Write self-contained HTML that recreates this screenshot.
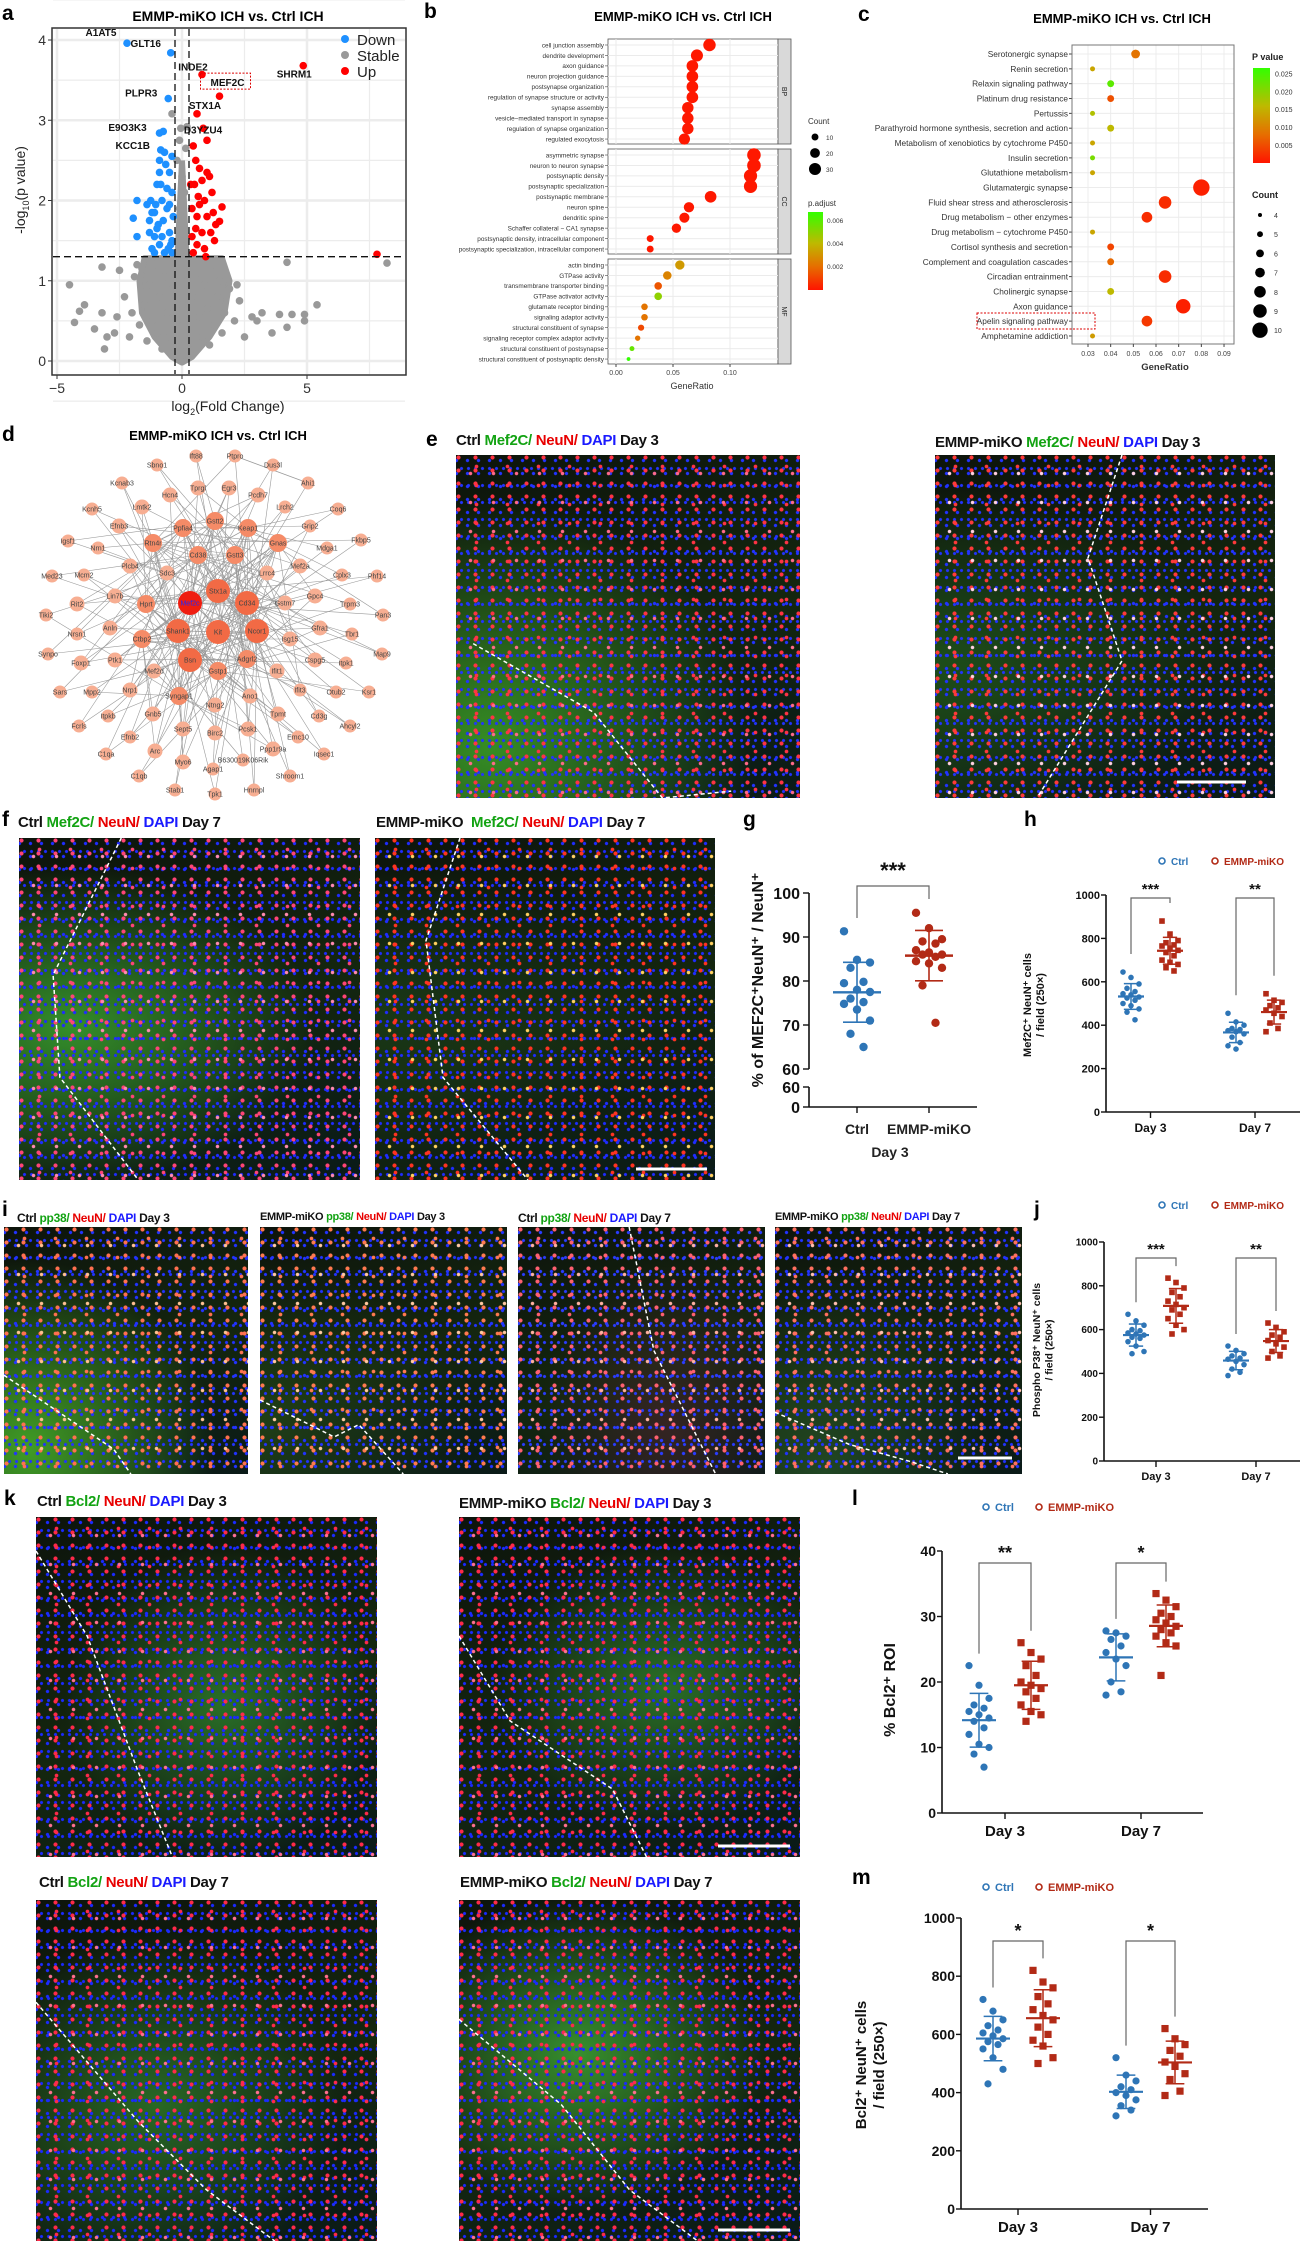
<!DOCTYPE html>
<html><head><meta charset="utf-8">
<style>
html,body{margin:0;padding:0;background:#fff;}
body{width:1309px;height:2244px;position:relative;overflow:hidden;font-family:"Liberation Sans",Arial,sans-serif;}
.micro{position:absolute;overflow:hidden;}
.ttl{position:absolute;font-weight:bold;font-size:15px;white-space:nowrap;color:#111;letter-spacing:-0.3px;}
.ttl.s{font-size:12px;}
.g{color:#13a313}.r{color:#e80000}.b{color:#1a1aff}
.lt{position:absolute;font-weight:bold;font-size:21px;color:#000;}
svg#charts{position:absolute;left:0;top:0;pointer-events:none;}
</style></head>
<body>

<div class="lt" style="left:2px;top:2px">a</div>
<div class="lt" style="left:424px;top:0px">b</div>
<div class="lt" style="left:858px;top:3px">c</div>
<div class="lt" style="left:2px;top:423px">d</div>
<div class="lt" style="left:426px;top:428px">e</div>
<div class="lt" style="left:2px;top:808px">f</div>
<div class="lt" style="left:743px;top:808px">g</div>
<div class="lt" style="left:1024px;top:808px">h</div>
<div class="lt" style="left:2px;top:1198px">i</div>
<div class="lt" style="left:1034px;top:1198px">j</div>
<div class="lt" style="left:4px;top:1487px">k</div>
<div class="lt" style="left:852px;top:1487px">l</div>
<div class="lt" style="left:852px;top:1866px">m</div>

<div class="ttl" style="left:456px;top:432px">Ctrl <span class="g">Mef2C/</span> <span class="r">NeuN/</span> <span class="b">DAPI</span> Day 3</div>
<div class="ttl" style="left:935px;top:434px">EMMP-miKO <span class="g">Mef2C/</span> <span class="r">NeuN/</span> <span class="b">DAPI</span> Day 3</div>
<div class="ttl" style="left:18px;top:814px">Ctrl <span class="g">Mef2C/</span> <span class="r">NeuN/</span> <span class="b">DAPI</span> Day 7</div>
<div class="ttl" style="left:376px;top:814px">EMMP-miKO &nbsp;<span class="g">Mef2C/</span> <span class="r">NeuN/</span> <span class="b">DAPI</span> Day 7</div>
<div class="ttl s" style="left:17px;top:1211px">Ctrl <span class="g">pp38/</span> <span class="r">NeuN/</span> <span class="b">DAPI</span> Day 3</div>
<div class="ttl s" style="left:260px;top:1211px;font-size:11px">EMMP-miKO <span class="g">pp38/</span> <span class="r">NeuN/</span> <span class="b">DAPI</span> Day 3</div>
<div class="ttl s" style="left:518px;top:1211px">Ctrl <span class="g">pp38/</span> <span class="r">NeuN/</span> <span class="b">DAPI</span> Day 7</div>
<div class="ttl s" style="left:775px;top:1211px;font-size:11px">EMMP-miKO <span class="g">pp38/</span> <span class="r">NeuN/</span> <span class="b">DAPI</span> Day 7</div>
<div class="ttl" style="left:37px;top:1493px">Ctrl <span class="g">Bcl2/</span> <span class="r">NeuN/</span> <span class="b">DAPI</span> Day 3</div>
<div class="ttl" style="left:459px;top:1495px">EMMP-miKO <span class="g">Bcl2/</span> <span class="r">NeuN/</span> <span class="b">DAPI</span> Day 3</div>
<div class="ttl" style="left:39px;top:1874px">Ctrl <span class="g">Bcl2/</span> <span class="r">NeuN/</span> <span class="b">DAPI</span> Day 7</div>
<div class="ttl" style="left:460px;top:1874px">EMMP-miKO <span class="g">Bcl2/</span> <span class="r">NeuN/</span> <span class="b">DAPI</span> Day 7</div>

<svg id="charts" width="1309" height="2244" viewBox="0 0 1309 2244" xmlns="http://www.w3.org/2000/svg"></svg>

<script>
// ---------- DATA ----------
const volcDown=[[-2.2,3.96],[-0.45,3.84],[-0.55,3.27],[-0.9,2.84],[-0.75,2.86],[-0.85,2.63],[-0.4,2.55],[-0.9,2.5],[-1.8,2.0],[-1.95,1.78],[-1.8,1.55],[-1.4,1.95],[-1.3,1.75],[-1.1,1.85],[-1.0,2.2],[-0.9,2.35],[-0.7,2.6],[-0.5,2.35],[-1.3,1.6],[-1.1,1.55],[-0.9,1.45],[-0.7,1.35],[-1.2,1.4],[-0.6,1.9],[-0.8,2.0],[-0.4,2.1],[-1.0,1.65],[-0.5,1.6],[-0.35,1.8],[-1.2,1.85],[-0.95,1.7],[-0.6,2.15],[-0.45,1.45],[-0.75,1.75],[-1.05,1.95],[-0.55,1.4],[-0.4,1.5],[-1.25,2.0],[-0.65,2.45],[-0.8,1.55],[-0.5,1.95],[-1.1,1.35],[-0.85,2.2],[-0.4,1.35]];
const volcUp=[[4.85,3.68],[0.8,3.57],[1.5,3.3],[0.6,3.08],[0.85,2.9],[1.0,2.75],[0.45,2.68],[0.55,2.5],[1.0,2.35],[0.9,2.0],[1.5,1.74],[1.35,1.7],[1.6,1.92],[1.2,2.1],[0.7,2.4],[0.5,2.2],[1.0,1.8],[0.8,1.6],[0.6,1.45],[1.3,1.5],[0.4,1.9],[0.65,2.05],[1.1,2.3],[0.45,1.35],[0.7,1.95],[0.9,1.4],[1.25,1.85],[0.35,2.2],[0.55,1.65],[0.8,2.25],[1.15,1.6],[0.4,1.55],[0.95,1.3],[0.6,1.8],[7.8,1.33]];
const volcStable=[[-4.5,0.95],[-4.3,0.48],[-4.1,0.62],[-3.9,0.7],[-3.5,0.4],[-3.2,0.6],[-3.2,1.17],[-3.1,0.15],[-3.0,0.3],[-2.7,0.35],[-2.6,0.55],[-2.5,1.13],[-2.3,0.8],[-2.1,0.3],[-2.0,0.6],[-1.9,1.05],[-1.8,1.2],[-1.7,0.45],[-1.6,1.15],[-1.5,0.7],[-1.4,0.25],[-1.3,0.95],[-1.2,0.5],[-1.1,1.2],[-1.0,0.35],[-0.9,0.8],[-0.8,0.15],[-0.7,1.05],[-0.6,0.6],[-0.5,0.3],[-0.4,0.9],[-0.3,0.1],[-0.2,0.5],[-0.1,0.05],[0,0.7],[0.1,0.2],[0.2,1.0],[0.3,0.4],[0.4,0.8],[0.5,0.15],[0.6,1.1],[0.7,0.55],[0.8,0.3],[0.9,0.95],[1.0,0.65],[1.1,0.2],[1.2,1.2],[1.3,0.45],[1.4,0.8],[1.5,1.0],[1.6,0.35],[1.7,0.6],[1.9,0.9],[2.1,0.5],[2.2,0.95],[2.3,0.75],[2.5,0.3],[2.8,0.55],[3.0,0.5],[3.2,0.6],[3.6,0.35],[3.9,0.58],[4.2,0.42],[4.2,1.23],[4.4,0.58],[4.9,0.5],[4.9,0.58],[5.4,0.7],[8.2,1.22],[-0.05,2.9],[-0.4,3.08],[0.2,2.92],[-0.1,2.75],[0.15,2.65],[-0.2,2.5],[0.0,2.3],[0.1,2.1],[-0.1,1.9],[0.05,1.7],[-0.05,1.5]];
const volcLabels=["A1AT5","GLT16","PLPR3","E9O3K3","","KCC1B"];
const volcUpLabels=["SHRM1","INDE2","MEF2C","STX1A","","D3YZU4"];

const goBP=["cell junction assembly","dendrite development","axon guidance","neuron projection guidance","postsynapse organization","regulation of synapse structure or activity","synapse assembly","vesicle−mediated transport in synapse","regulation of synapse organization","regulated exocytosis"];
const goBPRatio=[0.082,0.071,0.067,0.067,0.067,0.067,0.063,0.063,0.063,0.060];
const goBPCount=[32,30,28,28,28,28,27,27,27,26];
const goBPPadj=[0.0001,0.0001,0.0001,0.0001,0.0001,0.0001,0.0001,0.0001,0.0001,0.0001];
const goCC=["asymmetric synapse","neuron to neuron synapse","postsynaptic density","postsynaptic specialization","postsynaptic membrane","neuron spine","dendritic spine","Schaffer collateral − CA1 synapse","postsynaptic density, intracellular component","postsynaptic specialization, intracellular component"];
const goCCRatio=[0.121,0.121,0.118,0.118,0.083,0.064,0.060,0.053,0.030,0.030];
const goCCCount=[38,38,36,36,28,22,21,18,10,10];
const goCCPadj=[0.0001,0.0001,0.0001,0.0001,0.0001,0.0001,0.0001,0.0001,0.0001,0.0001];
const goMF=["actin binding","GTPase activity","transmembrane transporter binding","GTPase activator activity","glutamate receptor binding","signaling adaptor activity","structural constituent of synapse","signaling receptor complex adaptor activity","structural constituent of postsynapse","structural constituent of postsynaptic density"];
const goMFRatio=[0.056,0.045,0.037,0.037,0.025,0.025,0.022,0.019,0.014,0.011];
const goMFCount=[18,15,12,12,9,9,8,6,5,3];
const goMFPadj=[0.0032,0.0026,0.0015,0.0050,0.0022,0.0022,0.0012,0.0022,0.0058,0.0068];

const keggTerms=["Serotonergic synapse","Renin secretion","Relaxin signaling pathway","Platinum drug resistance","Pertussis","Parathyroid hormone synthesis, secretion and action","Metabolism of xenobiotics by cytochrome P450","Insulin secretion","Glutathione metabolism","Glutamatergic synapse","Fluid shear stress and atherosclerosis","Drug metabolism − other enzymes","Drug metabolism − cytochrome P450","Cortisol synthesis and secretion","Complement and coagulation cascades","Circadian entrainment","Cholinergic synapse","Axon guidance","Apelin signaling pathway","Amphetamine addiction"];
const keggRatio=[0.051,0.032,0.040,0.040,0.032,0.040,0.032,0.032,0.032,0.080,0.064,0.056,0.032,0.040,0.040,0.064,0.040,0.072,0.056,0.032];
const keggCount=[6,4,5,5,4,5,4,4,4,10,8,7,4,5,5,8,5,9,7,4];
const keggP=[0.008,0.013,0.022,0.005,0.016,0.015,0.013,0.020,0.013,0.001,0.002,0.002,0.013,0.004,0.007,0.002,0.015,0.001,0.003,0.012];

const netNames=["Ift88","Ptpro","Sbno1","Dus3l","Ahi1","Kcnab3","Hcn4","Tprgl","Egr3","Pcdh7","Lrch2","Coq6","Kcnh5","Lmtk2","Gstt2","Ppfia4","Keap1","Grip2","Efnb3","Igsf1","Nrn1","Rtn4r","Gnas","Mdga1","Fkbp5","Cd38","Gstt3","Med23","Mcm2","Plcb4","Sdc3","Lrrc4","Mef2a","Cplx3","Phf14","Lin7b","Stx1a","Gpc4","Rit2","Hprt","Mef2c","Cd34","Gstm7","Trpm3","Tiki2","Pan3","Anln","Shank1","Kit","Ncor1","Gfra1","Nrsn1","Ctbp2","Isg15","Tbr1","Synpo","Bsn","Adgrl2","Map9","Foxp1","Ptk1","Cspg5","Itpk1","Mef2d","Gstp1","Ifit1","Sars","Mpp2","Nrp1","Syngap1","Ano1","Ifit3","Otub2","Ksr1","Ntng2","Itpkb","Gnb5","Tpmt","Cd3g","Ahcyl2","Fcrls","Sept5","Pcsk1","Birc2","Efnb2","Emc10","Ppp1r9a","Arc","C1qa","Iqsec1","Myo6","B630019K06Rik","Agap1","Shroom1","C1qb","Stab1","Tpk1","Hnrnpl"];
const netX=[196,235,157,273,308,122,170,198,229,258,285,338,92,142,215,183,248,310,119,68,98,153,278,327,361,198,235,52,84,130,167,267,300,342,377,115,218,315,77,146,190,247,285,350,46,383,110,178,218,257,320,77,142,290,352,48,190,247,382,81,115,315,346,154,218,277,60,92,130,179,250,300,336,369,215,108,153,278,319,350,79,183,248,215,130,298,273,155,106,324,183,243,213,290,139,175,215,254];
const netY=[456,456,465,465,483,483,495,488,488,495,507,509,509,507,521,528,528,526,526,541,548,543,543,548,540,555,555,576,575,566,573,573,566,575,576,596,591,596,604,604,603,603,603,604,615,615,628,631,632,631,628,634,639,639,634,654,660,659,654,663,660,660,663,671,671,671,692,692,690,696,696,690,692,692,705,716,714,714,716,726,726,729,729,733,737,737,749,751,754,754,762,760,769,776,776,790,794,790];
const netDegree=[2,2,2,2,1,2,3,3,3,3,2,2,2,3,6,6,6,2,3,2,2,6,6,2,2,6,6,2,2,3,3,3,3,2,2,3,9,3,3,5,8,9,3,2,2,2,3,10,10,9,3,2,5,3,2,2,10,6,2,3,3,3,2,4,6,3,2,2,4,6,4,2,2,2,4,2,3,3,2,2,2,4,4,4,2,2,3,3,2,2,3,2,2,2,2,2,2,2];

const gCategories=["Ctrl","EMMP-miKO"];
const gCtrl=[91.3,84.8,84.2,83.0,79.8,79.5,78.0,77.5,76.0,75.2,74.8,73.5,71.0,68.0,65.0];
const gEmmp=[95.5,92.0,89.5,89.0,88.5,87.0,86.5,86.0,86.0,85.5,84.5,84.0,83.0,79.0,70.5];
const gTicks=[100,90,80,70,60];

const hGroups=["Day 3","Day 7"];
const hCtrlD3=[645,620,590,570,555,545,540,530,525,515,500,490,475,460,425];
const hEmmpD3=[880,820,790,780,770,765,755,745,735,720,700,690,680,665,650];
const hCtrlD7=[455,415,400,385,380,375,370,360,345,320,305,290];
const hEmmpD7=[545,515,505,490,480,470,455,440,410,385,370];
const hTicks=[0,200,400,600,800,1000];

const jCtrlD3=[670,640,620,600,595,585,580,575,565,560,545,525,500,490];
const jEmmpD3=[835,815,790,770,750,730,715,700,690,670,650,620,600,580];
const jCtrlD7=[525,505,490,480,470,465,455,440,420,405,390];
const jEmmpD7=[630,610,590,575,565,550,535,520,500,480,470];
const jTicks=[0,200,400,600,800,1000];

const lCtrlD3=[22.5,19.5,17.5,16.5,16.0,15.5,15.0,14.5,14.0,13.0,12.0,10.5,10.0,9.0,7.0];
const lEmmpD3=[26.0,24.5,23.5,22.5,21.0,20.0,19.5,19.0,18.5,17.5,16.5,15.5,15.0,14.0];
const lCtrlD7=[27.8,27.5,27.0,26.5,25.5,24.5,23.5,22.5,20.0,18.5,18.0];
const lEmmpD7=[33.5,32.5,31.5,30.5,30.0,29.5,29.0,28.5,28.0,27.5,27.0,26.0,25.5,21.0];
const lTicks=[0,10,20,30,40];

const mCtrlD3=[720,680,650,630,615,605,595,585,575,565,550,520,480,430];
const mEmmpD3=[820,780,760,730,705,685,665,650,625,600,580,560,520,500];
const mCtrlD7=[520,460,440,420,410,400,390,375,355,340,320];
const mEmmpD7=[620,585,565,545,525,505,490,465,445,405,390];
const mTicks=[0,200,400,600,800,1000];

// ---------- HELPERS ----------
const NS='http://www.w3.org/2000/svg';
const svg=document.getElementById('charts');
function E(tag,attrs,nm,parent){
  const e=document.createElementNS(NS,tag);
  for(const k in attrs)e.setAttribute(k,attrs[k]);
  
  
  (parent||svg).appendChild(e);return e;}
function T(x,y,s,attrs,nm,parent){const e=E('text',Object.assign({x:x,y:y},attrs||{}),nm,parent);e.textContent=s;return e;}
function lerpCol(stops,t){t=Math.max(0,Math.min(1,t));for(let i=1;i<stops.length;i++){if(t<=stops[i][0]){const a=stops[i-1],b=stops[i];const u=(t-a[0])/(b[0]-a[0]);const c=[0,1,2].map(k=>Math.round(a[1][k]+(b[1][k]-a[1][k])*u));return 'rgb('+c.join(',')+')';}}return 'rgb('+stops[stops.length-1][1].join(',')+')';}
const rgStops=[[0,[255,20,0]],[0.3,[230,110,0]],[0.6,[190,185,0]],[1,[50,255,0]]];

// ---------- PANEL A: volcano ----------
(function(){
  const vx=v=>182+v*25, vy=v=>361-v*80.25;
  const g=E('g',{},'volcano-plot');
  T(228,21,'EMMP-miKO ICH vs. Ctrl ICH',{'font-size':14,'font-weight':'bold','text-anchor':'middle'},'volcano-title',g);
  E('rect',{x:52,y:28,width:354,height:347,fill:'#fff'},'volcano-background',g);
  for(let v=-0.5;v<=4.5;v+=0.5){E('line',{x1:53,x2:405,y1:vy(v),y2:vy(v),stroke:'#ececec','stroke-width':(v%1===0)?2.5:1.2},'volcano-gridline-y',g);}
  for(let v=-5;v<=8;v+=2.5){E('line',{y1:29,y2:374,x1:vx(v),x2:vx(v),stroke:'#ececec','stroke-width':(v%5===0)?2.5:1.2},'volcano-gridline-x',g);}
  const hull=[[-1.5,1.28],[-1.7,1.0],[-1.6,0.6],[-1.1,0.3],[-0.4,0.05],[0,-0.02],[0.4,0.05],[1.1,0.3],[1.7,0.6],[1.9,1.0],[1.6,1.28]];
  E('path',{d:'M'+hull.map(p=>vx(p[0])+','+vy(p[1])).join('L')+'Z',fill:'#999',stroke:'#999','stroke-width':6,'stroke-linejoin':'round'},'volcano-stable-density',g);
  E('path',{d:'M'+vx(-0.3)+','+vy(1.3)+'L'+vx(-0.12)+','+vy(2.5)+'L'+vx(0.12)+','+vy(2.5)+'L'+vx(0.3)+','+vy(1.3)+'Z',fill:'#999'},'volcano-stable-core',g);
  volcStable.forEach(p=>{E('circle',{cx:vx(p[0]),cy:vy(p[1]),r:3.8,fill:'#999'},'volcano-point-stable',g);});
  volcDown.forEach(p=>{E('circle',{cx:vx(p[0]),cy:vy(p[1]),r:3.8,fill:'#1e90ff'},'volcano-point-down',g);});
  volcUp.forEach(p=>{E('circle',{cx:vx(p[0]),cy:vy(p[1]),r:3.8,fill:'#f00'},'volcano-point-up',g);});
  const dOff=[[-26,-7],[-25,-6],[-27,-2],[-32,-2],null,[-28,-1]];
  volcLabels.forEach((s,i)=>{if(!s)return;const p=volcDown[i];T(vx(p[0])+dOff[i][0],vy(p[1])+dOff[i][1],s,{'font-size':10,'text-anchor':'middle','font-weight':'bold','fill':'#111'},'volcano-gene-label',g);});
  const uOff=[[-9,12],[-9,-4],[8,-10],[8,-5],null,[-4,-7]];
  volcUpLabels.forEach((s,i)=>{if(!s)return;const p=volcUp[i];T(vx(p[0])+uOff[i][0],vy(p[1])+uOff[i][1],s,{'font-size':10,'text-anchor':'middle','font-weight':'bold','fill':'#111'},'volcano-gene-label',g);});
  const mp=volcUp[2];
  E('rect',{x:vx(mp[0])-19,y:vy(mp[1])-23,width:50,height:16,fill:'none',stroke:'#d00','stroke-width':1,'stroke-dasharray':'2,1.5'},'mef2c-highlight-box',g);
  E('line',{x1:53,x2:405,y1:vy(1.3),y2:vy(1.3),stroke:'#111','stroke-width':1.3,'stroke-dasharray':'7,4'},'pvalue-threshold-line',g);
  [-0.28,0.28].forEach(v=>{E('line',{x1:vx(v),x2:vx(v),y1:29,y2:374,stroke:'#111','stroke-width':1.3,'stroke-dasharray':'7,4'},'fold-change-threshold-line',g);});
  E('rect',{x:52,y:28,width:354,height:347,fill:'none',stroke:'#333','stroke-width':1.5},'volcano-frame',g);
  [0,1,2,3,4].forEach(v=>{E('line',{x1:48,x2:52,y1:vy(v),y2:vy(v),stroke:'#333'},'volcano-y-tick',g);T(46,vy(v)+5,String(v),{'font-size':14,'text-anchor':'end','fill':'#333'},'volcano-y-tick-label',g);});
  [-5,0,5].forEach(v=>{E('line',{x1:vx(v),x2:vx(v),y1:375,y2:379,stroke:'#333'},'volcano-x-tick',g);T(vx(v),393,v<0?'−5':String(v),{'font-size':14,'text-anchor':'middle','fill':'#333'},'volcano-x-tick-label',g);});
  const xl=T(228,411,'log',{'font-size':14,'text-anchor':'middle','fill':'#222'},'volcano-x-axis-title',g);
  xl.innerHTML='log<tspan font-size="9" dy="4">2</tspan><tspan dy="-4">(Fold Change)</tspan>';
  const yl=T(0,0,'',{'font-size':14,'text-anchor':'middle','fill':'#222',transform:'translate(25,190) rotate(-90)'},'volcano-y-axis-title',g);
  yl.innerHTML='-log<tspan font-size="9" dy="4">10</tspan><tspan dy="-4">(p value)</tspan>';
  const lg=[['Down','#1e90ff'],['Stable','#999'],['Up','#f00']];
  lg.forEach((l,i)=>{E('circle',{cx:345,cy:39+i*16,r:4,fill:l[1]},'volcano-legend-marker',g);T(357,45+i*16,l[0],{'font-size':15,'fill':'#222'},'volcano-legend-label',g);});
})();

// ---------- PANEL B: GO dot plot ----------
(function(){
  const g=E('g',{},'go-enrichment-plot');
  const bx=v=>616+v*1140;
  const cmax=0.0068;
  T(683,21,'EMMP-miKO ICH vs. Ctrl ICH',{'font-size':13,'font-weight':'bold','text-anchor':'middle'},'go-title',g);
  const facets=[['BP',39,goBP,goBPRatio,goBPCount,goBPPadj],['CC',149,goCC,goCCRatio,goCCCount,goCCPadj],['MF',259,goMF,goMFRatio,goMFCount,goMFPadj]];
  facets.forEach(f=>{
    const top=f[1],h=105;
    E('rect',{x:608,y:top,width:170,height:h,fill:'#fff',stroke:'#555','stroke-width':0.8},'go-facet-panel',g);
    [0,0.05,0.1].forEach(v=>{E('line',{x1:bx(v),x2:bx(v),y1:top,y2:top+h,stroke:'#ebebeb','stroke-width':1},'go-gridline-x',g);});
    E('rect',{x:778,y:top,width:13,height:h,fill:'#d9d9d9',stroke:'#555','stroke-width':0.8},'go-facet-strip',g);
    T(0,0,f[0],{'font-size':7,'text-anchor':'middle',transform:'translate(782,'+(top+h/2)+') rotate(90)','fill':'#222'},'go-facet-label',g);
    f[2].forEach((s,i)=>{const y=top+6+i*10.45;
      E('line',{x1:608,x2:778,y1:y,y2:y,stroke:'#ebebeb','stroke-width':1},'go-gridline-y',g);
      E('line',{x1:605,x2:608,y1:y,y2:y,stroke:'#444','stroke-width':0.6},'go-y-tick',g);
      T(604,y+2.3,s,{'font-size':6.4,'text-anchor':'end','fill':'#333'},'go-term-label',g);
      E('circle',{cx:bx(f[3][i]),cy:y,r:Math.sqrt(f[4][i])*1.1,fill:lerpCol(rgStops,f[5][i]/cmax)},'go-term-dot',g);});
  });
  [[0,'0.00'],[0.05,'0.05'],[0.1,'0.10']].forEach(t=>{E('line',{x1:bx(t[0]),x2:bx(t[0]),y1:364,y2:367,stroke:'#444'},'go-x-tick',g);T(bx(t[0]),375,t[1],{'font-size':7,'text-anchor':'middle','fill':'#444'},'go-x-tick-label',g);});
  T(692,389,'GeneRatio',{'font-size':9,'text-anchor':'middle','fill':'#333'},'go-x-axis-title',g);
  T(808,124,'Count',{'font-size':8,'fill':'#333'},'go-count-legend-title',g);
  [10,20,30].forEach((c,i)=>{E('circle',{cx:815,cy:137+i*16,r:Math.sqrt(c)*1.1,fill:'#000'},'go-count-legend-dot',g);T(826,140+i*16,String(c),{'font-size':6.5,'fill':'#333'},'go-count-legend-label',g);});
  T(808,206,'p.adjust',{'font-size':8,'fill':'#333'},'go-padj-legend-title',g);
  const df=E('defs',{},'go-defs',g);
  const lgd=E('linearGradient',{id:'gPadj',x1:0,y1:0,x2:0,y2:1},'padj-gradient',df);
  [[0,'rgb(50,255,0)'],[0.4,'rgb(190,185,0)'],[0.7,'rgb(230,110,0)'],[1,'rgb(255,20,0)']].forEach(s=>{E('stop',{offset:s[0],'stop-color':s[1]},'gradient-stop',lgd);});
  E('rect',{x:808,y:212,width:15,height:78,fill:'url(#gPadj)'},'go-padj-colorbar',g);
  [[0.006,'0.006'],[0.004,'0.004'],[0.002,'0.002']].forEach(t=>{const y=290-t[0]/0.0068*78;T(827,y+2,t[1],{'font-size':6.5,'fill':'#333'},'go-padj-legend-label',g);});
})();

// ---------- PANEL C: KEGG ----------
(function(){
  const g=E('g',{},'kegg-enrichment-plot');
  const kx=v=>1088+(v-0.03)*2267;
  T(1122,23,'EMMP-miKO ICH vs. Ctrl ICH',{'font-size':13,'font-weight':'bold','text-anchor':'middle'},'kegg-title',g);
  E('rect',{x:1072,y:45,width:162,height:299,fill:'#fff'},'kegg-background',g);
  for(let v=0.03;v<=0.0901;v+=0.01){E('line',{x1:kx(v),x2:kx(v),y1:45,y2:344,stroke:'#ececec'},'kegg-gridline-x',g);}
  keggTerms.forEach((s,i)=>{const y=54+i*14.84;
    E('line',{x1:1072,x2:1234,y1:y,y2:y,stroke:'#ececec'},'kegg-gridline-y',g);
    E('line',{x1:1069,x2:1072,y1:y,y2:y,stroke:'#444'},'kegg-y-tick',g);
    T(1068,y+3,s,{'font-size':8.3,'text-anchor':'end','fill':'#333'},'kegg-term-label',g);
    E('circle',{cx:kx(keggRatio[i]),cy:y,r:2.5+(keggCount[i]-4)*0.95,fill:lerpCol(rgStops,keggP[i]/0.025)},'kegg-term-dot',g);});
  E('rect',{x:977,y:313,width:118,height:16,fill:'none',stroke:'#d00','stroke-width':1,'stroke-dasharray':'2,1.5'},'apelin-highlight-box',g);
  E('rect',{x:1072,y:45,width:162,height:299,fill:'none',stroke:'#777','stroke-width':1},'kegg-frame',g);
  ['0.03','0.04','0.05','0.06','0.07','0.08','0.09'].forEach(t=>{const x=kx(+t);E('line',{x1:x,x2:x,y1:344,y2:347,stroke:'#444'},'kegg-x-tick',g);T(x,356,t,{'font-size':7,'text-anchor':'middle','fill':'#444'},'kegg-x-tick-label',g);});
  T(1165,370,'GeneRatio',{'font-size':9.5,'text-anchor':'middle','fill':'#333','font-weight':'bold'},'kegg-x-axis-title',g);
  T(1252,60,'P value',{'font-size':9,'fill':'#222','font-weight':'bold'},'kegg-pvalue-legend-title',g);
  const df=E('defs',{},'kegg-defs',g);
  const lgd=E('linearGradient',{id:'gP',x1:0,y1:0,x2:0,y2:1},'pvalue-gradient',df);
  [[0,'rgb(50,255,0)'],[0.4,'rgb(190,185,0)'],[0.7,'rgb(230,110,0)'],[1,'rgb(255,20,0)']].forEach(s=>{E('stop',{offset:s[0],'stop-color':s[1]},'gradient-stop',lgd);});
  E('rect',{x:1253,y:68,width:17,height:95,fill:'url(#gP)'},'kegg-pvalue-colorbar',g);
  [0.025,0.020,0.015,0.010,0.005].forEach(v=>{const y=163-v/0.0265*95;T(1275,y+3,v.toFixed(3),{'font-size':7,'fill':'#333'},'kegg-pvalue-legend-label',g);});
  T(1252,198,'Count',{'font-size':9,'fill':'#222','font-weight':'bold'},'kegg-count-legend-title',g);
  [4,5,6,7,8,9,10].forEach((c,i)=>{const y=215+i*19.2;E('circle',{cx:1260,cy:y,r:2+(c-4)*0.95,fill:'#000'},'kegg-count-legend-dot',g);T(1274,y+3,String(c),{'font-size':7,'fill':'#333'},'kegg-count-legend-label',g);});
})();

// ---------- PANEL D: network ----------
(function(){
  const g=E('g',{},'ppi-network');
  T(218,440,'EMMP-miKO ICH vs. Ctrl ICH',{'font-size':13,'font-weight':'bold','text-anchor':'middle'},'network-title',g);
  const hubs=[];netDegree.forEach((d,i)=>{if(d>=5)hubs.push(i);});
  netNames.forEach((n,i)=>{for(let k=0;k<Math.min(netDegree[i],3);k++){const h=hubs[(i*3+k*7)%hubs.length];if(h===i)continue;
    E('line',{x1:netX[i],y1:netY[i],x2:netX[h],y2:netY[h],stroke:'#9a9a9a','stroke-width':0.6},'network-edge',g);}});
  E('line',{x1:netX[1],y1:netY[1],x2:netX[4],y2:netY[4],stroke:'#9a9a9a','stroke-width':0.8},'network-edge',g);
  netNames.forEach((n,i)=>{const d=netDegree[i];const r=d>=8?12:(d>=5?9:(d>=3?7.5:6.5));
    const col=n==='Mef2c'?'#ef1d10':(d>=8?'#f26a45':(d>=5?'#f58b67':'#f7ae92'));
    E('circle',{cx:netX[i],cy:netY[i],r:r,fill:col},'network-node',g);
    T(netX[i],netY[i]+2.5,n,{'font-size':7,'text-anchor':'middle','fill':n==='Mef2c'?'#1a2bff':'#444'},'network-node-label',g);});
})();

// ---------- SCATTER PANELS ----------
function scatterPanel(o){
  const g=E('g',{},o.name);
  const ys=v=>o.y0-(v/o.vmax)*(o.y0-o.yTop);
  E('line',{x1:o.ax,x2:o.ax,y1:o.yTop,y2:o.y0,stroke:'#111','stroke-width':1.6},o.name+'-y-axis',g);
  E('line',{x1:o.ax,x2:o.axEnd,y1:o.y0,y2:o.y0,stroke:'#111','stroke-width':1.6},o.name+'-x-axis',g);
  o.ticks.forEach(t=>{E('line',{x1:o.ax-5,x2:o.ax,y1:ys(t),y2:ys(t),stroke:'#111','stroke-width':1.4},o.name+'-y-tick',g);
    T(o.ax-6,ys(t)+o.fs*0.36,String(t),{'font-size':o.fs,'font-weight':'bold','text-anchor':'end','fill':'#111'},o.name+'-y-tick-label',g);});
  o.days.forEach((d,i)=>{const cx=(o.series[i*2].x+o.series[i*2+1].x)/2;
    E('line',{x1:cx,x2:cx,y1:o.y0,y2:o.y0+6,stroke:'#111','stroke-width':1.4},o.name+'-x-tick',g);
    T(cx,o.y0+o.lfs+8,d,{'font-size':o.lfs,'font-weight':'bold','text-anchor':'middle','fill':'#111'},o.name+'-x-tick-label',g);});
  o.series.forEach((s,si)=>{
    const n=s.vals.length,mean=s.vals.reduce((a,b)=>a+b,0)/n;
    const sd=Math.sqrt(s.vals.reduce((a,b)=>a+(b-mean)*(b-mean),0)/(n-1));
    s.vals.forEach((v,i)=>{const dx=((i*7)%5-2)*o.jit;
      if(s.sq){E('rect',{x:s.x+dx-o.pr,y:ys(v)-o.pr,width:o.pr*2,height:o.pr*2,fill:s.col},o.name+'-point-emmp',g);}
      else{E('circle',{cx:s.x+dx,cy:ys(v),r:o.pr,fill:s.col},o.name+'-point-ctrl',g);}});
    E('line',{x1:s.x-o.mw,x2:s.x+o.mw,y1:ys(mean),y2:ys(mean),stroke:s.col,'stroke-width':2.2},o.name+'-mean-line',g);
    E('line',{x1:s.x,x2:s.x,y1:ys(mean+sd),y2:ys(mean-sd),stroke:s.col,'stroke-width':1.5},o.name+'-sd-bar',g);
    [mean+sd,mean-sd].forEach(v=>{E('line',{x1:s.x-o.mw*0.55,x2:s.x+o.mw*0.55,y1:ys(v),y2:ys(v),stroke:s.col,'stroke-width':1.5},o.name+'-sd-cap',g);});
  });
  o.stars.forEach((st,i)=>{const a=o.series[i*2],b=o.series[i*2+1];
    const ya=ys(Math.max(...a.vals))-o.gap,yb=ys(Math.max(...b.vals))-o.gap;
    E('path',{d:'M'+a.x+','+ya+'V'+o.by+'H'+b.x+'V'+yb,fill:'none',stroke:'#666','stroke-width':1.2},o.name+'-significance-bracket',g);
    T((a.x+b.x)/2,o.by-4,st,{'font-size':o.sfs,'font-weight':'bold','text-anchor':'middle','fill':'#111'},o.name+'-significance-stars',g);});
  if(o.legY){
    E('circle',{cx:o.legX,cy:o.legY-3,r:3,fill:'none',stroke:'#2e75b6','stroke-width':1.6},o.name+'-legend-ctrl-marker',g);
    T(o.legX+9,o.legY+1,'Ctrl',{'font-size':o.legfs,'font-weight':'bold','fill':'#2e75b6'},o.name+'-legend-ctrl-label',g);
    E('circle',{cx:o.legX2,cy:o.legY-3,r:3,fill:'none',stroke:'#b22a16','stroke-width':1.6},o.name+'-legend-emmp-marker',g);
    T(o.legX2+9,o.legY+1,'EMMP-miKO',{'font-size':o.legfs,'font-weight':'bold','fill':'#b22a16'},o.name+'-legend-emmp-label',g);}
  const yl=E('text',{'font-size':o.yfs,'font-weight':'bold','text-anchor':'middle','fill':'#111',transform:'translate('+o.ylx+','+o.yly+') rotate(-90)'},o.name+'-y-axis-title',g);
  o.ylab.forEach((l,i)=>{const t=E('tspan',{x:0,dy:i===0?0:o.yfs*1.2},o.name+'-y-axis-title-line',yl);t.textContent=l;});
  return g;
}
const BLUE='#2e75b6',RED='#b22a16';

// g panel (broken axis, custom)
(function(){
  const g=E('g',{},'mef2c-percent-plot');
  const ys=v=>893+(100-v)*4.4;
  E('line',{x1:809,x2:809,y1:893,y2:1069,stroke:'#111','stroke-width':1.6},'g-y-axis-upper',g);
  E('line',{x1:809,x2:809,y1:1087,y2:1107,stroke:'#111','stroke-width':1.6},'g-y-axis-lower',g);
  E('line',{x1:809,x2:977,y1:1107,y2:1107,stroke:'#111','stroke-width':1.6},'g-x-axis',g);
  gTicks.forEach(t=>{E('line',{x1:803,x2:809,y1:ys(t),y2:ys(t),stroke:'#111','stroke-width':1.4},'g-y-tick',g);T(800,ys(t)+6,String(t),{'font-size':16,'font-weight':'bold','text-anchor':'end','fill':'#111'},'g-y-tick-label',g);});
  [[60,1087],[0,1107]].forEach(t=>{E('line',{x1:803,x2:809,y1:t[1],y2:t[1],stroke:'#111','stroke-width':1.4},'g-y-tick',g);T(800,t[1]+6,String(t[0]),{'font-size':16,'font-weight':'bold','text-anchor':'end','fill':'#111'},'g-y-tick-label',g);});
  const xs=[857,929];
  gCategories.forEach((c,i)=>{E('line',{x1:xs[i],x2:xs[i],y1:1107,y2:1113,stroke:'#111','stroke-width':1.4},'g-x-tick',g);T(xs[i],1134,c,{'font-size':14,'font-weight':'bold','text-anchor':'middle','fill':'#222'},'g-x-tick-label',g);});
  T(890,1157,'Day 3',{'font-size':14,'font-weight':'bold','text-anchor':'middle','fill':'#222'},'g-x-axis-title',g);
  [[gCtrl,BLUE,false],[gEmmp,RED,true]].forEach((s,si)=>{const x=xs[si];const vals=s[0];
    const n=vals.length,mean=vals.reduce((a,b)=>a+b,0)/n,sd=Math.sqrt(vals.reduce((a,b)=>a+(b-mean)**2,0)/(n-1));
    vals.forEach((v,i)=>{const dx=((i*7)%5-2)*6.5;E('circle',{cx:x+dx,cy:ys(v),r:4.2,fill:s[1]},si?'g-point-emmp':'g-point-ctrl',g);});
    E('line',{x1:x-24,x2:x+24,y1:ys(mean),y2:ys(mean),stroke:s[1],'stroke-width':2.4},'g-mean-line',g);
    E('line',{x1:x,x2:x,y1:ys(mean+sd),y2:ys(mean-sd),stroke:s[1],'stroke-width':1.6},'g-sd-bar',g);
    [mean+sd,mean-sd].forEach(v=>{E('line',{x1:x-14,x2:x+14,y1:ys(v),y2:ys(v),stroke:s[1],'stroke-width':1.6},'g-sd-cap',g);});});
  E('path',{d:'M857,918V886H929V899',fill:'none',stroke:'#666','stroke-width':1.2},'g-significance-bracket',g);
  T(893,878,'***',{'font-size':22,'font-weight':'bold','text-anchor':'middle','fill':'#111'},'g-significance-stars',g);
  const yl=T(0,0,'% of MEF2C⁺NeuN⁺ / NeuN⁺',{'font-size':16,'font-weight':'bold','text-anchor':'middle','fill':'#111',transform:'translate(763,980) rotate(-90)'},'g-y-axis-title',g);
})();

scatterPanel({name:'h-mef2c-count',ax:1106,axEnd:1300,yTop:895,y0:1112,vmax:1000,ticks:hTicks,fs:11,lfs:12,days:hGroups,
  series:[{vals:hCtrlD3,x:1131,col:BLUE},{vals:hEmmpD3,x:1170,col:RED,sq:true},{vals:hCtrlD7,x:1236,col:BLUE},{vals:hEmmpD7,x:1274,col:RED,sq:true}],
  pr:2.8,jit:4,mw:13,stars:['***','**'],by:898,gap:18,sfs:15,legX:1162,legX2:1215,legY:864,legfs:10,yfs:11,ylx:1031,yly:1005,ylab:['Mef2C⁺ NeuN⁺ cells','/ field (250×)']});
scatterPanel({name:'j-pp38-count',ax:1104,axEnd:1300,yTop:1242,y0:1461,vmax:1000,ticks:jTicks,fs:10,lfs:11,days:hGroups,
  series:[{vals:jCtrlD3,x:1136,col:BLUE},{vals:jEmmpD3,x:1176,col:RED,sq:true},{vals:jCtrlD7,x:1236,col:BLUE},{vals:jEmmpD7,x:1276,col:RED,sq:true}],
  pr:2.8,jit:4,mw:13,stars:['***','**'],by:1258,gap:12,sfs:15,legX:1162,legX2:1215,legY:1208,legfs:10,yfs:10.5,ylx:1040,yly:1350,ylab:['Phospho P38⁺ NeuN⁺ cells','/ field (250×)']});
scatterPanel({name:'l-bcl2-roi',ax:942,axEnd:1203,yTop:1551,y0:1813,vmax:40,ticks:lTicks,fs:14,lfs:15,days:hGroups,
  series:[{vals:lCtrlD3,x:979,col:BLUE},{vals:lEmmpD3,x:1031,col:RED,sq:true},{vals:lCtrlD7,x:1116,col:BLUE},{vals:lEmmpD7,x:1166,col:RED,sq:true}],
  pr:3.6,jit:5,mw:17,stars:['**','*'],by:1563,gap:12,sfs:18,legX:986,legX2:1039,legY:1510,legfs:11,yfs:16,ylx:895,yly:1690,ylab:['% Bcl2⁺ ROI']});
scatterPanel({name:'m-bcl2-count',ax:961,axEnd:1208,yTop:1918,y0:2209,vmax:1000,ticks:mTicks,fs:14,lfs:15,days:hGroups,
  series:[{vals:mCtrlD3,x:993,col:BLUE},{vals:mEmmpD3,x:1043,col:RED,sq:true},{vals:mCtrlD7,x:1126,col:BLUE},{vals:mEmmpD7,x:1175,col:RED,sq:true}],
  pr:3.6,jit:5,mw:17,stars:['*','*'],by:1941,gap:12,sfs:18,legX:986,legX2:1039,legY:1890,legfs:11,yfs:15,ylx:866,yly:2065,ylab:['Bcl2⁺ NeuN⁺ cells','/ field (250×)']});

// ---------- MICROSCOPY IMAGES ----------
const micros=[
 ['micro-e-ctrl-d3',456,455,344,343,'rgba(60,160,40,.85)','10% 85%','#ff6a8a','#ff3344','#2233ff',[[5,55],[40,75],[60,100],[80,98]],null],
 ['micro-e-emmp-d3',935,455,340,343,'rgba(40,120,40,.5)','0% 60%','#ffd0e0','#ff3a3a','#2233ff',[[55,0],[45,30],[55,60],[30,100]],[1177,1246,782]],
 ['micro-f-ctrl-d7',19,838,341,342,'rgba(60,170,50,.8)','15% 55%','#ff8ab0','#ff4477','#1f2cff',[[30,0],[10,40],[12,70],[35,100]],null],
 ['micro-f-emmp-d7',375,838,340,342,'rgba(40,100,40,.35)','0% 50%','#ffd060','#ff3322','#1f2cff',[[25,0],[15,30],[20,70],[45,100]],[636,707,1169]],
 ['micro-i-1',4,1227,244,247,'rgba(70,170,40,.9)','10% 90%','#ffc090','#ff7050','#2233ff',[[0,60],[30,80],[45,90],[52,100]],null],
 ['micro-i-2',260,1227,247,247,'rgba(60,120,40,.3)','0% 80%','#ffc8a0','#ff7a50','#2233ff',[[0,70],[30,85],[40,80],[58,100]],null],
 ['micro-i-3',518,1227,247,247,'rgba(90,40,50,.5)','60% 80%','#ffb0a0','#ff6070','#2a3cff',[[45,0],[55,50],[70,80],[80,100]],null],
 ['micro-i-4',775,1227,247,247,'rgba(60,130,60,.4)','20% 100%','#ffc0b0','#ff7060','#2233ff',[[0,75],[30,88],[55,95],[70,100]],[958,1012,1458]],
 ['micro-k-ctrl-d3',36,1517,341,340,'rgba(60,170,60,.55)','55% 55%','#ff7090','#ff2a4a','#1a2aff',[[0,10],[15,35],[30,75],[40,100]],null],
 ['micro-k-emmp-d3',459,1517,341,340,'rgba(60,170,60,.55)','60% 50%','#ff7090','#ff2a4a','#1a2aff',[[0,35],[15,60],[45,80],[55,100]],[718,790,1846]],
 ['micro-k-ctrl-d7',36,1900,341,341,'rgba(60,170,60,.5)','35% 60%','#ff7090','#ff2a4a','#1a2aff',[[0,30],[30,65],[50,85],[70,100]],null],
 ['micro-k-emmp-d7',459,1900,341,341,'rgba(70,190,60,.7)','35% 45%','#ff7090','#ff2a4a','#1a2aff',[[0,35],[30,60],[50,85],[70,100]],[718,790,2230]]
];
micros.forEach(m=>{
  const d=document.createElement('div');
  d.className='micro';
  
  
  d.style.left=m[1]+'px';d.style.top=m[2]+'px';d.style.width=m[3]+'px';d.style.height=m[4]+'px';
  d.style.background=
   'radial-gradient(circle, '+m[7]+' 0 1.4px, transparent 2.1px) 3px 4px / 23px 29px,'+
   'radial-gradient(circle, '+m[8]+' 0 1.7px, transparent 2.4px) 11px 9px / 17px 13px,'+
   'radial-gradient(circle, '+m[8]+' 0 1.5px, transparent 2.2px) 5px 2px / 31px 19px,'+
   'radial-gradient(circle, '+m[9]+' 0 1.3px, transparent 2px) 6px 12px / 11px 13px,'+
   'radial-gradient(circle, '+m[9]+' 0 1.2px, transparent 1.9px) 2px 5px / 7px 17px,'+
   'radial-gradient(ellipse at '+m[6]+', '+m[5]+', rgba(0,0,0,0) 60%),'+
   'linear-gradient(160deg,#0d140c,#14260f 55%,#0a1a18)';
  document.body.insertBefore(d,svg);
  const ln=E('path',{d:'M'+m[10].map(p=>(m[1]+p[0]/100*m[3])+','+(m[2]+p[1]/100*m[4])).join(' L'),fill:'none',stroke:'#fff','stroke-width':1.5,'stroke-dasharray':'4,3'},'lesion-boundary');
  if(m[11]){E('line',{x1:m[11][0],x2:m[11][1],y1:m[11][2],y2:m[11][2],stroke:'#fff','stroke-width':3},'scale-bar');}
});
</script>
</body></html>
